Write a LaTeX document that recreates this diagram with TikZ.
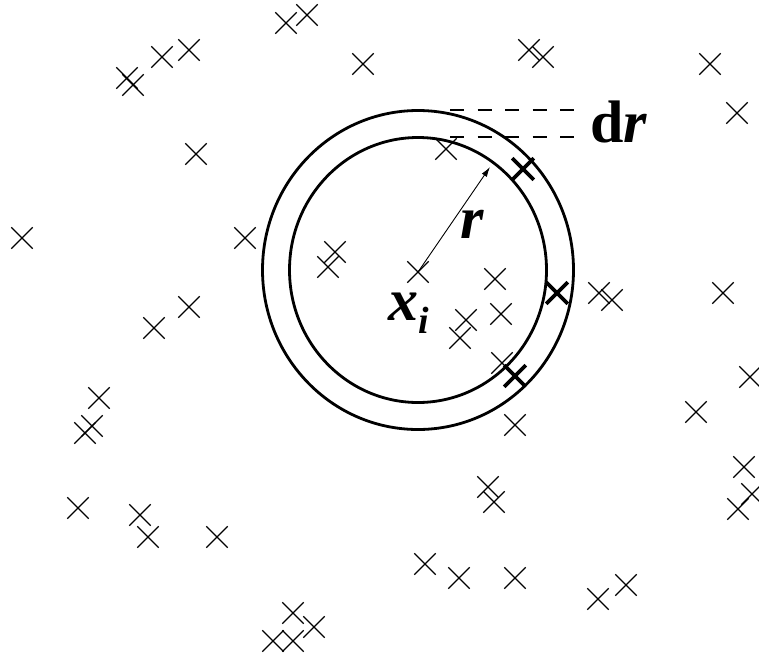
\documentclass[tikz,border=0pt]{standalone}
\usepackage{fontspec}
\setmainfont{Liberation Serif}
\usetikzlibrary{shapes.misc, arrows.meta}

\begin{document}
\begin{tikzpicture}[x=1pt, y=-1pt,
  smpt/.style={draw, cross out, minimum size=20pt, inner sep=0pt, line width=1.3pt},
  bigpt/.style={draw, cross out, minimum size=18pt, inner sep=0pt, line width=3.6pt},
  ring/.style={line width=2.8pt},
  guide/.style={line width=2.6pt, dash pattern=on 14pt off 13.5pt},
  lbl/.style={inner sep=0pt, anchor=base west, font=\fontsize{60}{60}\selectfont\bfseries}]
  \useasboundingbox (0,0) rectangle (759,656);

  % scattered points
  \foreach \px/\py [count=\n] in {286/23, 307/15, 127/78, 133/85, 162/57, 189/50, 363/64,
      196/154, 22/238, 245/238, 335/252, 328/267, 189/307, 154/328,
      529/50, 543/57, 710/64, 737/113, 446/149, 495/279, 599/293, 612/300,
      723/293, 501/314, 466/320, 460/338, 502/363, 515/425, 750/377, 696/412,
      99/398, 92/426, 85/433, 78/508, 140/515, 148/537, 217/537,
      293/613, 314/627, 273/641, 293/641,
      744/467, 752/494, 738/509, 488/487, 494/502, 425/564, 459/578, 515/578,
      598/599, 626/585}
    \node[smpt] (p\n) at (\px,\py) {};

  % centre point and shell
  \node[smpt] (xi) at (418,272) {};
  \draw[ring] (418,270) ellipse [x radius=128.5, y radius=132.5];
  \draw[ring] (418,270) ellipse [x radius=155.5, y radius=159.5];

  % points inside the shell
  \node[bigpt] (s1) at (523,169) {};
  \node[bigpt] (s2) at (557,293) {};
  \node[bigpt] (s3) at (515,376) {};

  % radius
  \coordinate (rtip) at (490,167);
  \draw[-{Latex[length=10pt, width=6pt]}, line width=0.9pt] (xi.center) -- (rtip);

  % shell width guides
  \coordinate (outa) at (450,110);
  \coordinate (outb) at (574,110);
  \coordinate (ina) at (450,137);
  \coordinate (inb) at (574,137);
  \draw[guide] (outa) -- (outb);
  \draw[guide] (ina) -- (inb);

  % labels
  \node[lbl] (dr) at (590,142) {d\textit{r}};
  \node[lbl] (rlab) at (460,238) {\textit{r}};
  \node[lbl] (xlab) at (388,320) {\textit{x}\raisebox{-13pt}{\fontsize{38}{38}\selectfont\textit{i}}};
\end{tikzpicture}
\end{document}
